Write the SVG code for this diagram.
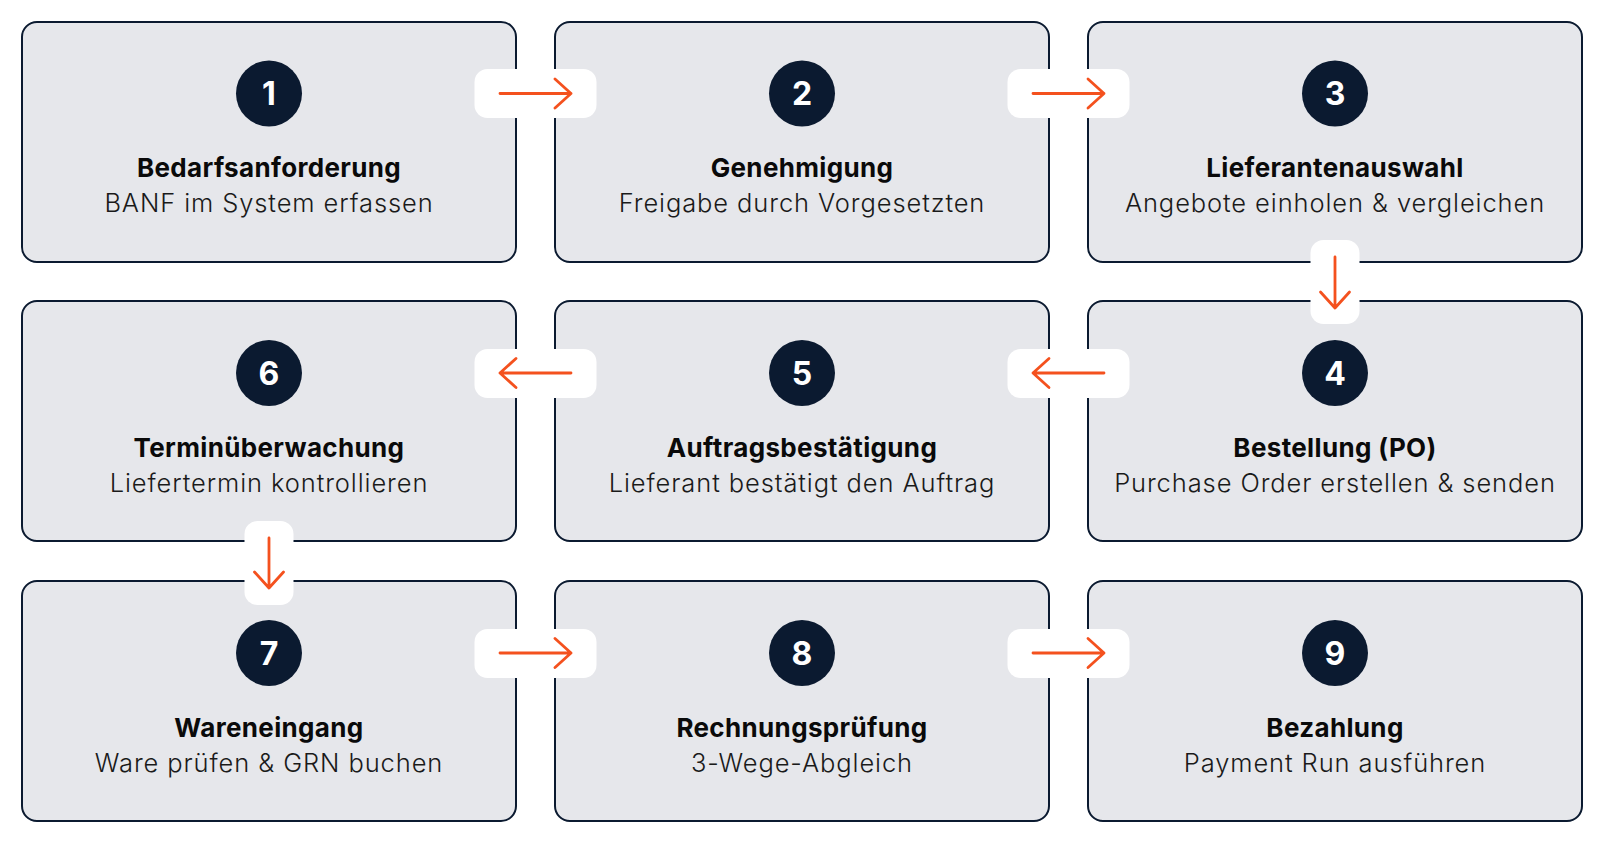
<svg xmlns="http://www.w3.org/2000/svg" width="1604" height="844" viewBox="0 0 1604 844">
<style>
.box{fill:#e6e7eb;stroke:#0b1a30;stroke-width:2}
.circ{fill:#0b1a30}
.num{fill:#ffffff;font-family:Inter,"Liberation Sans",sans-serif;font-weight:700;font-size:32px;text-anchor:middle}
.ttl{fill:#0a0a0a;font-family:Inter,"Liberation Sans",sans-serif;font-weight:700;font-size:26px;letter-spacing:0.35px;text-anchor:middle}
.sub{fill:#1a1a1a;font-family:Inter,"Liberation Sans",sans-serif;font-weight:300;font-size:25.5px;letter-spacing:0.9px;text-anchor:middle}
.badge{fill:#ffffff}
.arr{fill:none;stroke:#f4511e;stroke-width:2.8;stroke-linecap:round;stroke-linejoin:round}
</style>
<rect width="1604" height="844" fill="#ffffff"/>
<g id="node1"><rect class="box" x="22" y="22" width="494" height="240" rx="15"/><circle class="circ" cx="269" cy="93.5" r="33"/><text class="num" x="269" y="105">1</text><text class="ttl" x="269" y="177">Bedarfsanforderung</text><text class="sub" x="269" y="212">BANF im System erfassen</text></g>
<g id="node2"><rect class="box" x="555" y="22" width="494" height="240" rx="15"/><circle class="circ" cx="802" cy="93.5" r="33"/><text class="num" x="802" y="105">2</text><text class="ttl" x="802" y="177">Genehmigung</text><text class="sub" x="802" y="212">Freigabe durch Vorgesetzten</text></g>
<g id="node3"><rect class="box" x="1088" y="22" width="494" height="240" rx="15"/><circle class="circ" cx="1335" cy="93.5" r="33"/><text class="num" x="1335" y="105">3</text><text class="ttl" x="1335" y="177">Lieferantenauswahl</text><text class="sub" x="1335" y="212">Angebote einholen &amp; vergleichen</text></g>
<g id="node4"><rect class="box" x="1088" y="301" width="494" height="240" rx="15"/><circle class="circ" cx="1335" cy="373" r="33"/><text class="num" x="1335" y="384.5">4</text><text class="ttl" x="1335" y="457">Bestellung (PO)</text><text class="sub" x="1335" y="491.5">Purchase Order erstellen &amp; senden</text></g>
<g id="node5"><rect class="box" x="555" y="301" width="494" height="240" rx="15"/><circle class="circ" cx="802" cy="373" r="33"/><text class="num" x="802" y="384.5">5</text><text class="ttl" x="802" y="457">Auftragsbestätigung</text><text class="sub" x="802" y="491.5">Lieferant bestätigt den Auftrag</text></g>
<g id="node6"><rect class="box" x="22" y="301" width="494" height="240" rx="15"/><circle class="circ" cx="269" cy="373" r="33"/><text class="num" x="269" y="384.5">6</text><text class="ttl" x="269" y="457">Terminüberwachung</text><text class="sub" x="269" y="491.5">Liefertermin kontrollieren</text></g>
<g id="node7"><rect class="box" x="22" y="581" width="494" height="240" rx="15"/><circle class="circ" cx="269" cy="653" r="33"/><text class="num" x="269" y="664.5">7</text><text class="ttl" x="269" y="737">Wareneingang</text><text class="sub" x="269" y="771.5">Ware prüfen &amp; GRN buchen</text></g>
<g id="node8"><rect class="box" x="555" y="581" width="494" height="240" rx="15"/><circle class="circ" cx="802" cy="653" r="33"/><text class="num" x="802" y="664.5">8</text><text class="ttl" x="802" y="737">Rechnungsprüfung</text><text class="sub" x="802" y="771.5">3-Wege-Abgleich</text></g>
<g id="node9"><rect class="box" x="1088" y="581" width="494" height="240" rx="15"/><circle class="circ" cx="1335" cy="653" r="33"/><text class="num" x="1335" y="664.5">9</text><text class="ttl" x="1335" y="737">Bezahlung</text><text class="sub" x="1335" y="771.5">Payment Run ausführen</text></g>
<g id="connectors">
<rect class="badge" x="474.5" y="69" width="122" height="49" rx="13"/><path class="arr" d="M500 93.5H571M555 79L571 93.5L555 108"/>
<rect class="badge" x="1007.5" y="69" width="122" height="49" rx="13"/><path class="arr" d="M1033 93.5H1104M1088 79L1104 93.5L1088 108"/>
<rect class="badge" x="1310.5" y="240" width="49" height="84" rx="13"/><path class="arr" d="M1335 257V308M1320.5 292L1335 308L1349.5 292"/>
<rect class="badge" x="1007.5" y="349" width="122" height="49" rx="13"/><path class="arr" d="M1104 373H1033M1049 358.5L1033 373L1049 387.5"/>
<rect class="badge" x="474.5" y="349" width="122" height="49" rx="13"/><path class="arr" d="M571 373H500M516 358.5L500 373L516 387.5"/>
<rect class="badge" x="244.5" y="521" width="49" height="84" rx="13"/><path class="arr" d="M269 538V588M254.5 572L269 588L283.5 572"/>
<rect class="badge" x="474.5" y="629" width="122" height="49" rx="13"/><path class="arr" d="M500 653H571M555 638.5L571 653L555 667.5"/>
<rect class="badge" x="1007.5" y="629" width="122" height="49" rx="13"/><path class="arr" d="M1033 653H1104M1088 638.5L1104 653L1088 667.5"/>
</g>
</svg>
